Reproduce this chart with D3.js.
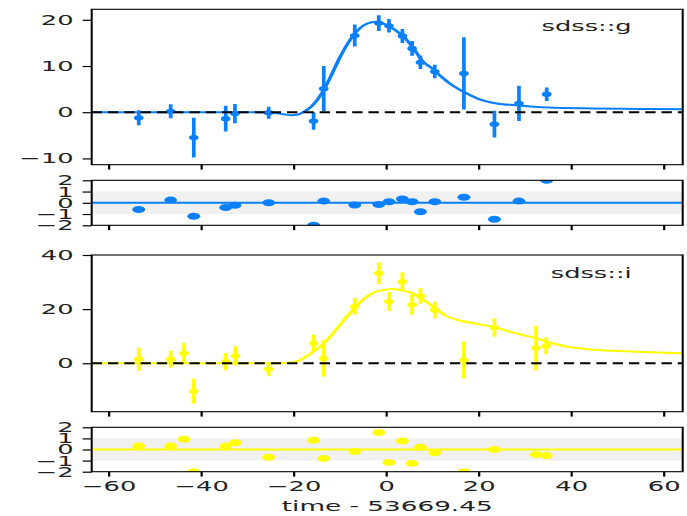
<!DOCTYPE html>
<html>
<head>
<meta charset="utf-8">
<script src="https://cdn.jsdelivr.net/npm/d3@7"></script>
<style>
  html, body { margin: 0; padding: 0; background: #fff; }
  svg { display: block; }
  text { font-family: "DejaVu Sans", sans-serif; }
</style>
</head>
<body>
<svg id="chart"></svg>
<script>
// ---- light-curve data (days relative to t0 = 53669.45) ----
const bands = ["sdss::g", "sdss::i"];
const bandColors = ["#0a80ff", "#ffff00"];

const tG     = [-53.4, -46.5, -41.5, -34.6, -32.6, -25.3, -15.6, -13.4, -6.7, -1.5, 0.7, 3.6, 5.7, 7.5, 10.6, 16.9, 23.5, 28.8, 34.8];
const fluxG  = [-1.2, 0.2, -5.5, -1.4, -0.3, -0.1, -1.9, 5.1, 16.6, 19.3, 18.7, 16.5, 13.8, 10.8, 8.8, 8.4, -2.6, 1.9, 3.9];
const errG   = [1.6, 1.5, 4.3, 2.8, 2.1, 1.3, 1.9, 4.9, 2.4, 1.7, 1.45, 1.5, 1.6, 1.45, 1.45, 7.8, 2.9, 3.8, 1.45];
const residG = [-0.6, 0.24, -1.19, -0.42, -0.21, 0.0, -2.0, 0.15, -0.2, -0.15, 0.09, 0.33, 0.09, -0.8, 0.09, 0.5, -1.46, 0.15, 2.0];

const tI     = [-53.4, -46.5, -43.6, -41.5, -34.6, -32.5, -25.3, -15.6, -13.4, -6.7, -1.5, 0.7, 3.6, 5.7, 7.5, 10.6, 16.9, 23.5, 32.5, 34.7];
const fluxI  = [1.5, 1.5, 3.7, -10.3, 0.6, 2.8, -2.2, 7.4, 1.8, 21.0, 33.3, 22.8, 30.2, 21.6, 24.9, 19.7, 1.2, 13.2, 5.6, 6.4];
const errI   = [4.3, 3.2, 3.8, 4.6, 3.2, 3.5, 2.6, 3.1, 6.7, 3.1, 4.0, 3.5, 3.4, 3.7, 2.9, 3.1, 6.8, 3.4, 8.3, 3.1];
const residI = [0.31, 0.31, 0.92, -2.0, 0.31, 0.61, -0.7, 0.83, -0.8, -0.18, 1.53, -1.16, 0.76, -1.25, 0.21, -0.3, -2.0, 0.0, -0.46, -0.55];

// best-fit model curves
const modelTG = [-63.6, -30, -26, -24, -22, -20.4, -19, -17.9, -16, -14, -12, -10, -8, -6, -4, -2, 0, 2, 4, 6, 8, 10, 12, 14, 17, 20, 24, 28, 35, 45, 55, 64.2];
const modelG  = [0, 0, -0.05, -0.2, -0.45, -0.65, -0.5, 0, 1.3, 3.8, 7.5, 11.7, 15.2, 17.8, 19.2, 19.6, 19.0, 17.8, 16.2, 13.8, 11.0, 9.5, 7.7, 6.1, 4.3, 2.9, 1.9, 1.5, 1.0, 0.8, 0.7, 0.65];

const modelTI = [-63.6, -24, -21.5, -20, -18, -16, -14, -12, -10, -8, -6, -4, -2, 0, 1.5, 3.5, 5.7, 8, 10.6, 13, 16, 19.6, 23.5, 27, 30.4, 33, 36, 40, 45, 52, 64.2];
const modelI  = [0, 0, 0.05, 0.4, 1.6, 3.9, 6.4, 9.8, 14.0, 18.0, 21.8, 24.7, 26.5, 27.2, 27.4, 26.9, 25.9, 23.6, 20.4, 17.5, 15.8, 14.6, 13.3, 11.6, 10.1, 8.9, 7.4, 5.9, 5.0, 4.4, 3.7];

// ---- ticks ----
const xTicks = [-60, -40, -20, 0, 20, 40, 60];
const yTicksG = [-10, 0, 10, 20];
const yTicksI = [0, 20, 40];
const residTicks = [-2, -1, 0, 1, 2];
const xLabel = "time - 53669.45";

// ---- layout (figure is drawn in a narrow frame and stretched wide) ----
const W = 687, H = 516;
const SX = 1.85;
const VW = W / SX;
const px = v => v / SX;

const svg = d3.select("#chart")
  .attr("width", W).attr("height", H)
  .attr("viewBox", `0 0 ${VW} ${H}`)
  .attr("preserveAspectRatio", "none");

const x = d3.scaleLinear().domain([-63.57, 64.2]).range([px(91.7), px(682.7)]);
const FS = 13.9, TICK = 4.9, PAD = 4.9;
const intFmt = d3.format("d");

const bandData = [
  { t: tG, flux: fluxG, err: errG, resid: residG, mt: modelTG, mf: modelG, yTicks: yTicksG,
    main: { top: 9.3, bottom: 164.7, dom: [-11.36, 22.27] },
    res:  { top: 180.3, bottom: 225.3 }, labelY: 31.5 },
  { t: tI, flux: fluxI, err: errI, resid: residI, mt: modelTI, mf: modelI, yTicks: yTicksI,
    main: { top: 255, bottom: 411.7, dom: [-17.9, 40] },
    res:  { top: 427.3, bottom: 471.7 }, labelY: 277.7 }
];

function styleAxis(g) {
  g.select(".domain").remove();
  g.selectAll("line").attr("stroke", "#000").attr("stroke-width", 1.2);
  g.selectAll("text").attr("fill", "#222").style("font-size", FS + "px")
    .style("font-family", "'DejaVu Sans', sans-serif");
}

let clipId = 0;
function panel(top, bottom) {
  const id = "clip" + (clipId++);
  svg.append("clipPath").attr("id", id).append("rect")
    .attr("x", x.range()[0]).attr("y", top)
    .attr("width", x.range()[1] - x.range()[0]).attr("height", bottom - top);
  return svg.append("g").attr("clip-path", `url(#${id})`);
}

function frame(top, bottom) {
  svg.append("rect")
    .attr("x", x.range()[0]).attr("y", top)
    .attr("width", x.range()[1] - x.range()[0]).attr("height", bottom - top)
    .attr("fill", "none").attr("stroke", "#000").attr("stroke-width", 1.1);
}

function xAxis(bottom, withLabels) {
  const ax = d3.axisBottom(x).tickValues(xTicks).tickSize(TICK).tickPadding(PAD)
    .tickFormat(withLabels ? intFmt : "");
  svg.append("g").attr("transform", `translate(0,${bottom})`).call(ax).call(styleAxis);
}

function yAxis(y, ticks) {
  svg.append("g").attr("transform", `translate(${x.range()[0]},0)`)
    .call(d3.axisLeft(y).tickValues(ticks).tickSize(TICK).tickPadding(PAD).tickFormat(intFmt))
    .call(styleAxis);
}

bandData.forEach((b, bi) => {
  const color = bandColors[bi];

  // main light-curve panel
  const y = d3.scaleLinear().domain(b.main.dom).range([b.main.bottom, b.main.top]);
  const g = panel(b.main.top, b.main.bottom);
  const pts = b.t.map((t, i) => ({ t, f: b.flux[i], e: b.err[i] }));

  g.selectAll("line.err").data(pts).join("line").attr("class", "err")
    .attr("x1", d => x(d.t)).attr("x2", d => x(d.t))
    .attr("y1", d => y(d.f - d.e)).attr("y2", d => y(d.f + d.e))
    .attr("stroke", color).attr("stroke-width", 2);
  g.selectAll("circle.pt").data(pts).join("circle").attr("class", "pt")
    .attr("cx", d => x(d.t)).attr("cy", d => y(d.f)).attr("r", 2.6)
    .attr("fill", color);

  const model = b.mt.map((t, i) => [t, b.mf[i]]);
  g.append("path").datum(model)
    .attr("d", d3.line().x(d => x(d[0])).y(d => y(d[1])).curve(d3.curveMonotoneX))
    .attr("fill", "none").attr("stroke", color).attr("stroke-width", 2);

  g.append("line")
    .attr("x1", x.range()[0]).attr("x2", x.range()[1])
    .attr("y1", y(0)).attr("y2", y(0))
    .attr("stroke", "#000").attr("stroke-width", 2)
    .attr("stroke-dasharray", "5.6 3.2");

  frame(b.main.top, b.main.bottom);
  yAxis(y, b.yTicks);
  xAxis(b.main.bottom, false);

  svg.append("text")
    .attr("x", px(631.7)).attr("y", b.labelY)
    .attr("text-anchor", "end").attr("fill", "#222")
    .style("font-size", FS + "px")
    .text(bands[bi]);

  // residual panel (pull in units of sigma)
  const yr = d3.scaleLinear().domain([-2, 2]).range([b.res.bottom, b.res.top]);
  const r = panel(b.res.top, b.res.bottom);
  r.append("rect")
    .attr("x", x.range()[0]).attr("width", x.range()[1] - x.range()[0])
    .attr("y", yr(1)).attr("height", yr(-1) - yr(1))
    .attr("fill", "#f0f0f0");
  r.append("line")
    .attr("x1", x.range()[0]).attr("x2", x.range()[1])
    .attr("y1", yr(0)).attr("y2", yr(0))
    .attr("stroke", color).attr("stroke-width", 2);
  r.selectAll("circle").data(b.t.map((t, i) => ({ t, v: b.resid[i] })))
    .join("circle")
    .attr("cx", d => x(d.t)).attr("cy", d => yr(d.v)).attr("r", 3.5)
    .attr("fill", color);

  frame(b.res.top, b.res.bottom);
  yAxis(yr, residTicks);
  xAxis(b.res.bottom, bi === bandData.length - 1);
});

svg.append("text")
  .attr("x", (x.range()[0] + x.range()[1]) / 2).attr("y", 510.7)
  .attr("text-anchor", "middle").attr("fill", "#222")
  .style("font-size", "14.2px")
  .text(xLabel);
</script>
</body>
</html>
